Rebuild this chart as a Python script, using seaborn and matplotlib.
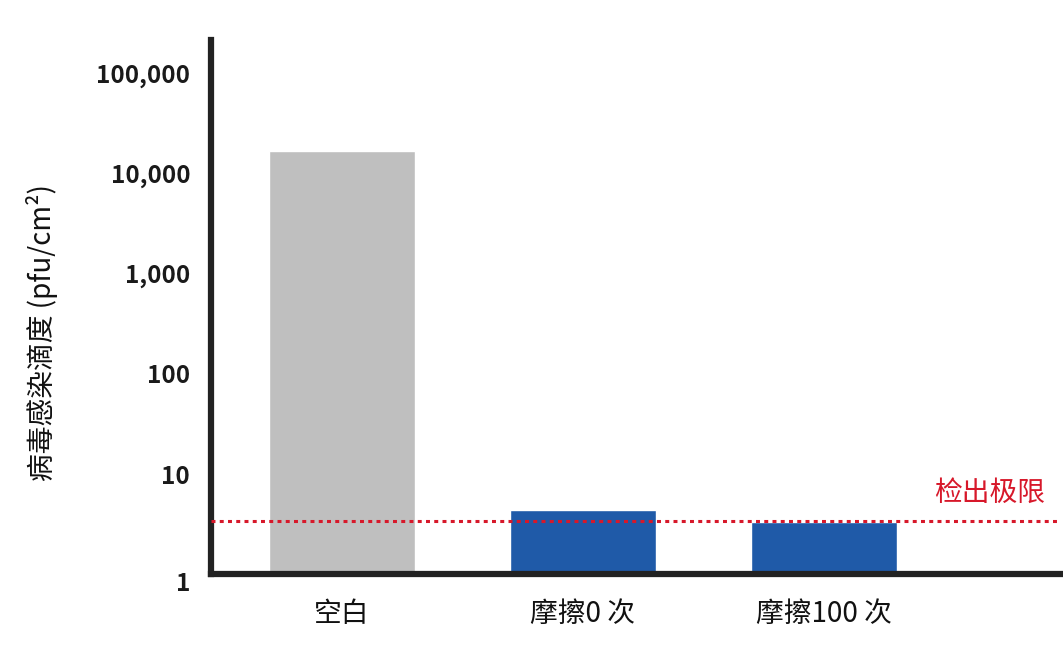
import matplotlib
matplotlib.use("Agg")
import matplotlib.pyplot as plt
import matplotlib.ticker as mticker
import matplotlib.transforms as mtransforms
import seaborn as sns
import pandas as pd

# 数据
categories = ['空白', '摩擦0 次', '摩擦100 次']
titers = [16600, 4.4, 3.3]
bar_colors = ['#bfbfbf', '#1f5aa8', '#1f5aa8']
detect_limit = 3.4
y_ticks = [1, 10, 100, 1000, 10000, 100000]
y_ticklabels = ['1', '10', '100', '1,000', '10,000', '100,000']

sns.set_theme(style="white")
plt.rcParams['font.family'] = ['Noto Sans CJK SC', 'DejaVu Sans']

df = pd.DataFrame({'组别': categories, '滴度': titers})

fig = plt.figure(figsize=(10.63, 6.57), dpi=100)
ax = fig.add_axes([0.1985, 0.126, 0.7985, 0.813])
ax.set_yscale('log')
sns.barplot(data=df, x='组别', y='滴度', hue='组别', palette=bar_colors,
            width=0.605, legend=False, ax=ax, saturation=1)

ax.set_ylim(1, 10 ** 5.33)
ax.set_xlim(-0.544, 2.98)
ax.set_yticks(y_ticks)
ax.set_yticklabels(y_ticklabels)
ax.yaxis.set_minor_locator(mticker.NullLocator())

ax.axhline(detect_limit, color='#d7182a', linestyle=(0, (1.3, 1.4)), linewidth=2.2, zorder=3)
ax.text(2.917, detect_limit * 1.35, '检出极限', color='#d7182a', fontsize=20,
        ha='right', va='bottom')

for side in ['top', 'right']:
    ax.spines[side].set_visible(False)
for side in ['left', 'bottom']:
    ax.spines[side].set_color('#222222')
    ax.spines[side].set_linewidth(4.5)

ax.tick_params(axis='y', direction='in', length=12, width=2, color='#222222',
               labelsize=17.5, pad=15, labelcolor='#1a1a1a')
ax.tick_params(axis='x', length=0, labelsize=20, pad=18, labelcolor='#111111')
for lbl in ax.get_yticklabels():
    lbl.set_fontweight('bold')

# "1" 稍微往下移一点
first = ax.get_yticklabels()[0]
first.set_transform(first.get_transform() +
                    mtransforms.ScaledTranslation(0, -5 / 72, fig.dpi_scale_trans))

ax.set_xlabel('')
ax.set_ylabel('病毒感染滴度 (pfu/cm²)', fontsize=20, color='#111111')
ax.yaxis.set_label_coords(-0.18, 0.453)

fig.savefig('out.png', dpi=100)
